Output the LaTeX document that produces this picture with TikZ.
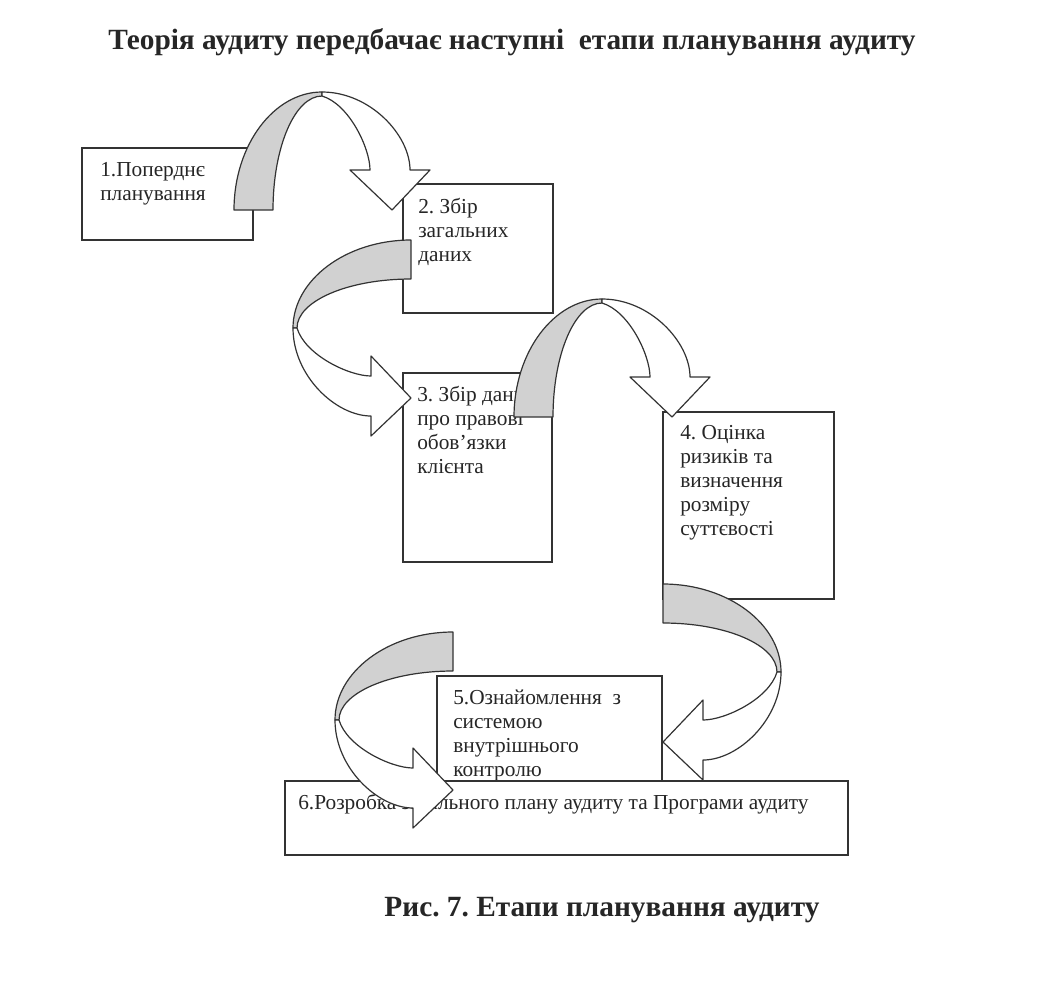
\documentclass[tikz,border=0pt]{standalone}
\usepackage{fontspec}
\setmainfont{Liberation Serif}
\usetikzlibrary{fit}
\frenchspacing
\newcommand{\ribbonarrow}[1]{%
  \begin{scope}[#1]
    \filldraw[back] (-88,0) .. controls (-88,65) and (-48,118) .. (0,118)
      -- (0,114) .. controls (-27,114) and (-49,63) .. (-49,0) -- cycle;
    \filldraw[front] (0,118) .. controls (48,118) and (88,75) .. (88,40)
      -- (108,40) -- (70,0) -- (28,40) -- (48,40)
      .. controls (48,62) and (27,106) .. (0,114) -- cycle;
  \end{scope}}
\begin{document}
\frenchspacing
\begin{tikzpicture}[x=0.75pt, y=-0.75pt,
  box/.style={draw=black!80, line width=0.9pt, fill=white, inner sep=0pt, outer sep=0pt},
  lbl/.style={anchor=north west, inner sep=0pt, align=left, text=black!85,
              font=\fontsize{16}{18}\selectfont},
  band/.style={draw=black!80, line width=0.9pt, line join=round},
  back/.style={band, fill=black!18},
  front/.style={band, fill=white},
  headline/.style={font=\bfseries\fontsize{22}{25}\selectfont, text=black!85, inner sep=0pt}]
\fill[white] (0,0) rectangle (1059,993);
\useasboundingbox (0,0) rectangle (1059,993);

% title and caption
\node[headline] (title) at (512,42) {Теорія аудиту передбачає наступні\ \ етапи планування аудиту};
\node[headline] (caption) at (602,910) {Рис. 7. Етапи планування аудиту};

% boxes
\coordinate (b1a) at (82,148);  \coordinate (b1b) at (253,240);
\coordinate (b2a) at (403,184); \coordinate (b2b) at (553,313);
\coordinate (b3a) at (403,373); \coordinate (b3b) at (552,562);
\coordinate (b4a) at (663,412); \coordinate (b4b) at (834,599);
\coordinate (b5a) at (437,676); \coordinate (b5b) at (662,800);
\coordinate (b6a) at (285,781); \coordinate (b6b) at (848,855);

\node[box, fit=(b1a)(b1b)] (b1) {};
\node[lbl] (t1) at (100,159) {\strut 1.Попердн\char"0454\\планування};
\node[box, fit=(b2a)(b2b)] (b2) {};
\node[lbl] (t2) at (418,196) {\strut 2. Збір\\загальних\\даних};
\node[box, fit=(b3a)(b3b)] (b3) {};
\node[lbl] (t3) at (417,384) {\strut 3. Збір даних\\про правові\\обов’язки\\клієнта};
\node[box, fit=(b4a)(b4b)] (b4) {};
\node[lbl] (t4) at (680,422) {\strut 4. Оцінка\\ризиків та\\визначення\\розміру\\суттєвості};
\node[box, fit=(b5a)(b5b)] (b5) {};
\node[lbl] (t5) at (453,687) {\strut 5.Ознайомлення\ \ з\\системою\\внутрішнього\\контролю};
\node[box, fit=(b6a)(b6b)] (b6) {};
\node[lbl] (t6) at (298,792) {\strut 6.Розробка загального плану аудиту та Програми аудиту};

% ribbon arrows
\ribbonarrow{shift={(322,210)}, yscale=-1}
\ribbonarrow{shift={(411,328)}, rotate=-90}
\ribbonarrow{shift={(602,417)}, yscale=-1}
\ribbonarrow{shift={(663,672)}, cm={0,-1,-1,0,(0,0)}}
\ribbonarrow{shift={(453,720)}, rotate=-90}
\end{tikzpicture}
\end{document}
